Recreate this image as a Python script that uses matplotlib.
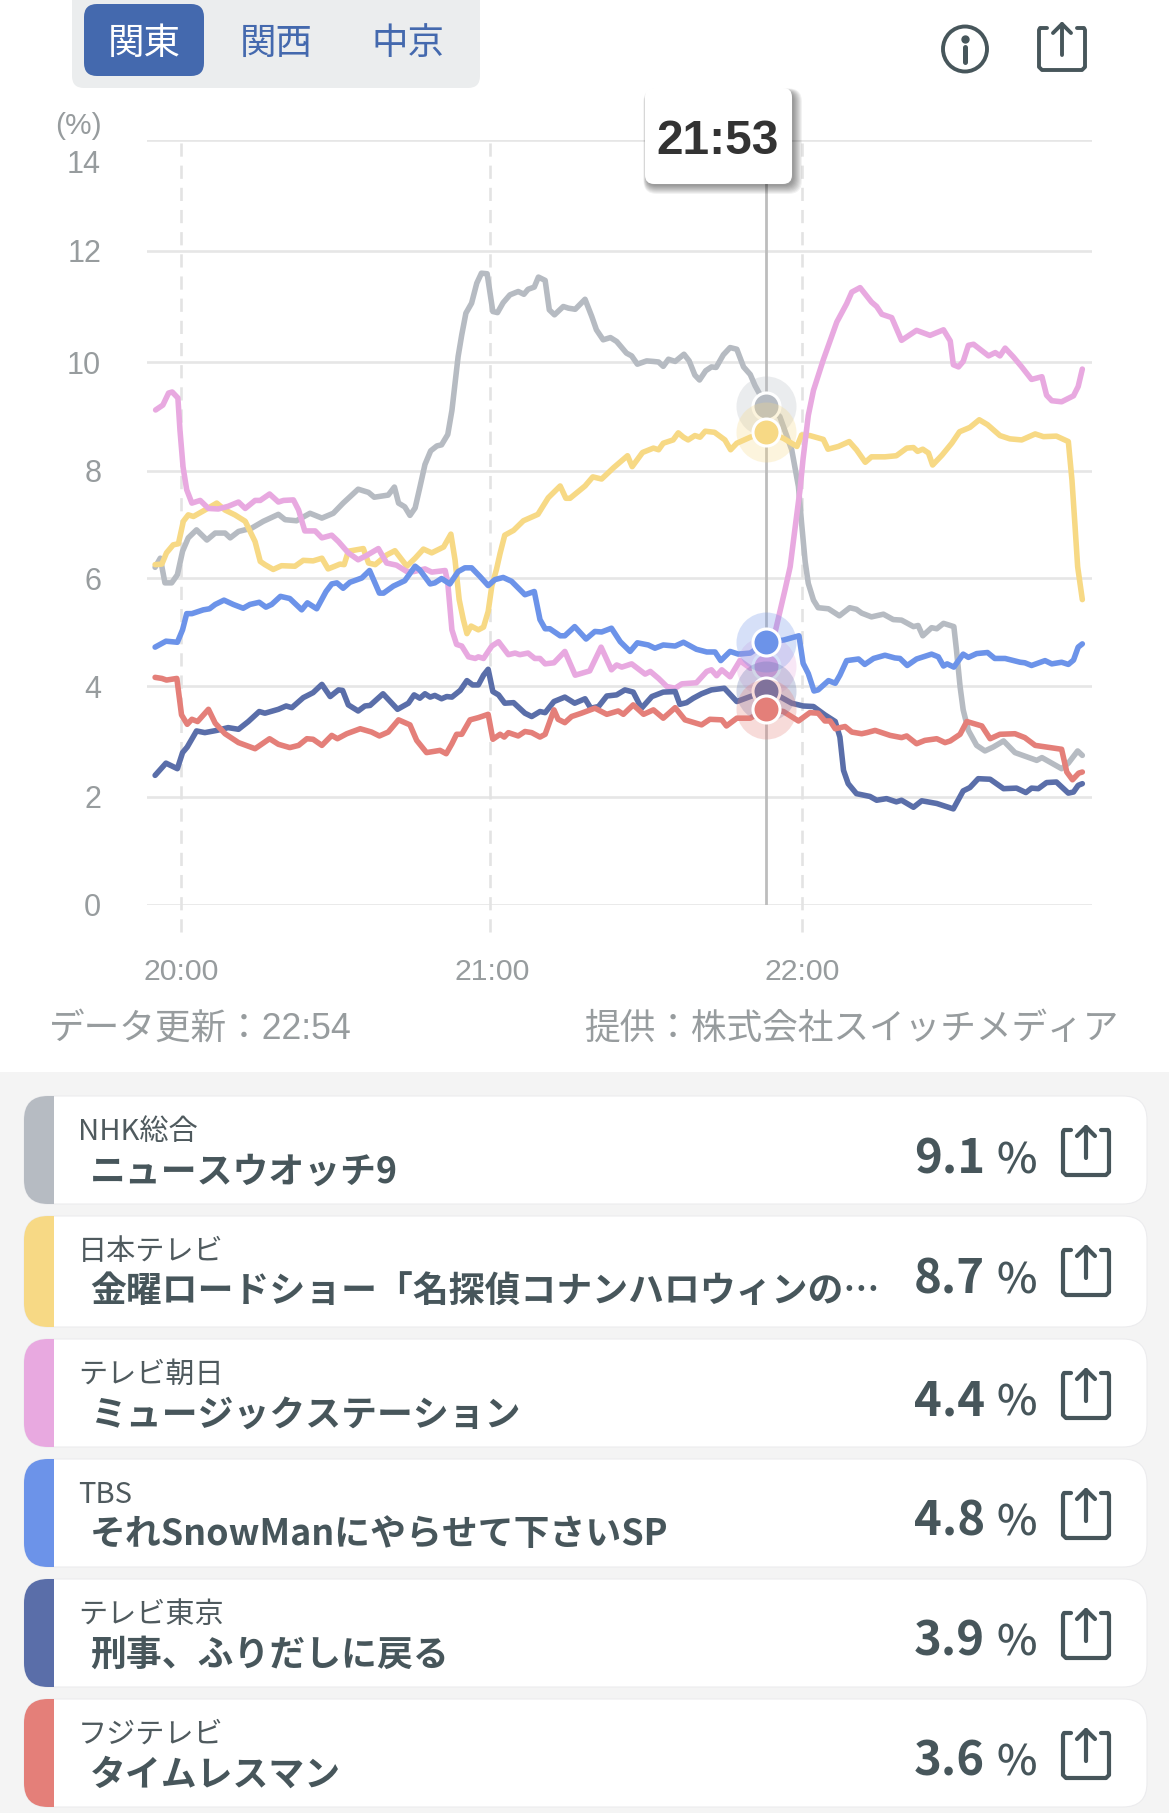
import numpy as np
import matplotlib
matplotlib.use("Agg")
import matplotlib.pyplot as plt
from matplotlib.patches import FancyBboxPatch, Ellipse, Rectangle

W, H = 1169, 1813
CJK = ['Noto Sans CJK JP', 'DejaVu Sans']
MIX = ['Liberation Sans', 'Noto Sans CJK JP']

# ---------- data (minutes after 20:00, rating %) ----------
t_nhk = [-5,-4,-3.1,-1.8,-.7,.3,1.4,3,5,6.6,8.5,9.5,11.1,13.6,15.9,18.8,20.1,22.3,24.9,27.2,29.4,31.3,34.2,36.2,37.3,40,41.2,42,43.2,44.2,45.2,46.1,47.1,48.2,49.4,50.3,51.5,52.3,52.9,53.5,54.2,55,56.1,57.1,58,59.1,60.2,61.1,62.2,63.5,65.1,66.2,67,68.2,69,70.3,71.1,72.1,73.8,74.8,76.1,78,79.3,80.2,81.5,82.9,84.1,86,87,88.1,89.9,91.2,92.2,93.1,94.1,95.4,97.1,98.1,99.2,100.1,101.3,102.4,103.3,104.7,106,107.3,108.6,109.9,110.8,113,115.6,117.9,119.2,119.8,120.5,121.1,122.1,123,125,127.1,129.1,130.4,131.4,133.3,135.6,137.5,139.1,141.4,142.3,143.2,144.9,145.9,147.2,149.2,149.7,150.4,151,152,153.6,155.2,156.8,158.8,161,165.2,166.2,170,171.3,173.1,174]
v_nhk = [6.2,6.37,5.91,5.91,6.06,6.5,6.75,6.9,6.71,6.84,6.84,6.75,6.87,6.93,7.06,7.19,7.09,7.07,7.21,7.12,7.21,7.4,7.66,7.6,7.51,7.55,7.7,7.4,7.33,7.17,7.31,7.69,8.12,8.37,8.46,8.48,8.67,9.11,9.6,10.1,10.49,10.88,11.06,11.42,11.6,11.59,10.91,10.89,11.07,11.21,11.27,11.22,11.31,11.35,11.53,11.47,10.94,10.85,11.0,10.97,10.95,11.13,10.82,10.58,10.4,10.44,10.37,10.16,10.11,9.96,10.02,10.01,10.0,9.92,10.05,10.01,10.14,10.02,9.76,9.67,9.84,9.91,9.9,10.13,10.26,10.23,9.91,9.77,9.57,9.19,9.0,8.39,7.71,7.03,6.3,5.9,5.59,5.45,5.43,5.3,5.45,5.42,5.35,5.28,5.33,5.23,5.22,5.1,5.12,4.93,5.08,5.06,5.16,5.1,4.67,3.99,3.57,3.2,2.93,2.83,2.9,3.01,2.8,2.66,2.71,2.51,2.61,2.83,2.75]

t_ntv = [-5,-3.7,-2.8,-1.5,-.5,.45,1.4,2.4,4.6,6.9,8.5,10.4,12.4,14.3,15.3,16.2,17.8,19.4,22,23.6,25.5,27.2,28.4,29.7,30.7,31.5,32.3,35.2,36.2,37.5,39.7,41.3,43.6,45.2,46.8,48.4,50.7,52.1,52.9,53.7,54.5,55.2,56,57.4,58.4,59.3,60,60.9,61.6,62.5,64.2,66.1,68.9,70.9,73.2,74.3,75.1,78,79.5,81.2,83.5,86.2,87.1,89.1,91.2,92.2,93.1,95,96,97,97.9,99.2,100.2,101.2,103,105,106.1,107.3,109.9,113,116.3,118.9,119.8,121.4,124,124.9,126.9,129,130.4,132.1,133.3,135.9,138.1,140.1,141.4,142.2,143.2,144.3,145.1,146.9,148.8,150.3,152.3,154.1,155.7,158.1,160,162.3,164.9,166.5,169,171.3,172,172.6,173.1,174]
v_ntv = [6.25,6.26,6.47,6.62,6.64,7.06,7.18,7.15,7.27,7.4,7.27,7.18,7.06,6.68,6.31,6.25,6.16,6.23,6.22,6.33,6.32,6.37,6.17,6.22,6.26,6.25,6.5,6.55,6.28,6.25,6.43,6.51,6.22,6.37,6.54,6.47,6.58,6.82,6.34,5.6,5.23,4.97,5.11,5.04,5.09,5.38,5.85,6.16,6.46,6.8,6.89,7.07,7.19,7.5,7.72,7.49,7.49,7.72,7.89,7.85,8.06,8.28,8.08,8.34,8.42,8.39,8.51,8.57,8.7,8.62,8.57,8.65,8.62,8.73,8.71,8.57,8.39,8.51,8.62,8.72,8.6,8.45,8.66,8.65,8.58,8.4,8.45,8.54,8.39,8.16,8.26,8.26,8.28,8.42,8.43,8.36,8.4,8.33,8.11,8.29,8.51,8.72,8.8,8.94,8.85,8.65,8.59,8.57,8.68,8.63,8.64,8.54,7.83,6.96,6.21,5.6]

t_ex = [-4.9,-3.5,-2.4,-1.7,-.6,-.2,.4,1.1,2.1,3.7,5.3,7.2,9.1,11.1,12.4,14.3,15.3,17.1,18.8,19.8,21.7,22.7,23.9,25.9,27.2,29.1,30.4,32.3,34.2,35.8,38.1,39.7,41.6,43.6,44.9,47.1,48.4,51,51.5,52.3,53.2,54.2,55.5,56.8,57.4,58.4,60,61.3,63.2,64.5,65.4,67,68.3,69.3,70.3,72,74.1,76.1,78.9,81.1,83.1,84.1,85.1,87,89.6,90.6,92.2,93.8,95.4,96.7,99.5,101.5,102.4,103.4,104.4,106,107.9,109.9,113,114.7,116.6,117.6,118.5,119.5,120.1,121.1,122.1,124,126.6,128.5,129.5,131.1,133.3,134.3,135.3,137.2,139.1,142,144.6,147.2,148.5,149.1,150.1,151,152,153,155.9,157.2,158.1,159.1,160.7,162.3,164.2,166.2,167.1,168.1,170,172.3,173.2,174]
v_ex = [9.12,9.21,9.43,9.45,9.34,8.75,8.07,7.65,7.4,7.45,7.3,7.29,7.34,7.42,7.3,7.45,7.45,7.57,7.42,7.45,7.46,7.27,6.88,6.88,6.75,6.8,6.68,6.47,6.34,6.42,6.55,6.28,6.24,6.12,6.12,6.17,6.11,6.14,5.91,5.04,4.77,4.74,4.54,4.51,4.54,4.51,4.74,4.82,4.58,4.61,4.58,4.61,4.51,4.51,4.41,4.43,4.64,4.2,4.28,4.72,4.3,4.39,4.35,4.41,4.22,4.27,4.14,3.99,3.96,4.04,4.06,4.27,4.3,4.19,4.3,4.17,4.47,4.33,4.37,5.0,5.78,6.21,6.9,7.65,8.23,9.02,9.48,10.04,10.72,11.05,11.26,11.34,11.08,11.0,10.86,10.8,10.39,10.57,10.48,10.58,10.38,9.95,9.91,10.01,10.3,10.32,10.11,10.17,10.11,10.25,10.09,9.91,9.68,9.73,9.39,9.29,9.27,9.38,9.55,9.87]

t_tbs = [-5,-2.9,-.7,.3,1.1,2.1,4.3,5.5,6.6,8.3,10.1,12,13.3,15.1,16.4,17.5,19.2,21,23.3,24.4,26.2,28,29.1,30.1,31.3,32.6,34.9,36.4,38.3,39.1,41,43.2,45.2,46.1,48.1,49,50.3,51.9,53.5,54.8,56.1,57.7,59.3,60.6,62.2,63.8,66.4,68.2,69.3,70.3,71.2,73.2,74.1,76,78.2,79.9,81.2,83.1,84.8,86.7,88.1,90.2,91.5,93.1,95.4,97,99.5,101.5,103.1,104.2,106,107.6,109.9,113,116.3,119.3,120.1,121.1,122.2,123,125,126.3,127.2,128.5,130.8,132,133.7,135.9,137.8,138.8,140.2,142,144.9,146.2,147.2,147.9,149.2,151,152,153.6,155.7,157.1,159.1,162,162.9,164.2,166.8,168.1,170,171.3,172.3,173.2,174]
v_tbs = [4.72,4.83,4.81,5.04,5.34,5.34,5.41,5.43,5.51,5.59,5.51,5.44,5.51,5.55,5.46,5.51,5.66,5.62,5.41,5.54,5.43,5.75,5.89,5.91,5.81,5.92,6.0,6.14,5.72,5.72,5.85,5.95,6.22,6.15,5.89,5.91,5.99,5.89,6.12,6.19,6.19,6.03,5.86,5.97,6.01,5.94,5.69,5.75,5.23,5.06,5.06,4.93,4.93,5.1,4.87,5.01,5.0,5.07,4.82,4.64,4.8,4.76,4.7,4.76,4.74,4.81,4.68,4.63,4.63,4.47,4.64,4.59,4.61,4.81,4.85,4.93,4.42,4.23,3.91,3.93,4.1,4.05,4.2,4.47,4.5,4.4,4.51,4.57,4.52,4.51,4.38,4.5,4.59,4.54,4.37,4.41,4.35,4.59,4.53,4.6,4.62,4.51,4.51,4.44,4.43,4.38,4.47,4.41,4.44,4.4,4.48,4.72,4.78]

t_tx = [-5,-2.9,-.7,.3,1.2,3,4.6,6.9,9.1,11.1,13,15.1,16.2,18.8,20.3,21.4,23.6,25.5,27.2,28.8,30.4,31.2,32.3,34.2,35.5,36.5,39,41.8,43.9,45,46.1,47.1,48.1,49,50.3,51.3,52.3,53.9,55.2,56.3,57.4,58.4,59.3,60.2,61.3,62.5,64.2,66.4,67.7,69.3,70.3,72,74.1,76,78,79.1,80.6,82.2,84.1,85.7,87.3,88.9,90.9,93.1,95.4,96.3,97.6,98.9,100.5,102.4,104.9,107.3,109.9,113,115.6,117.9,120.1,122.1,124.3,126.3,127.2,127.9,128.8,130.4,133,134.3,136.2,138.1,139.1,141.4,143,145.9,149.1,151,152.3,153.9,156.2,158.8,161.3,163.1,164.2,165.5,167.1,169,171.3,172.3,173.2,174]
v_tx = [2.39,2.61,2.51,2.8,2.9,3.19,3.16,3.2,3.25,3.22,3.36,3.54,3.51,3.58,3.64,3.61,3.79,3.88,4.03,3.81,3.93,3.92,3.66,3.55,3.64,3.65,3.86,3.58,3.69,3.84,3.78,3.86,3.8,3.83,3.77,3.81,3.8,3.92,4.1,4.02,4.02,4.2,4.31,3.9,3.84,3.69,3.7,3.51,3.45,3.54,3.52,3.72,3.8,3.69,3.77,3.6,3.63,3.82,3.84,3.93,3.89,3.6,3.81,3.89,3.9,3.67,3.7,3.78,3.86,3.93,3.96,3.72,3.81,3.91,3.81,3.69,3.64,3.63,3.48,3.36,3.08,2.48,2.24,2.06,2.01,1.94,1.97,1.91,1.94,1.81,1.93,1.88,1.78,2.11,2.17,2.33,2.32,2.15,2.16,2.08,2.16,2.15,2.26,2.27,2.07,2.09,2.21,2.24]

t_cx = [-5,-3.7,-2.8,-.8,.1,1.2,2.1,3.2,5.3,6.6,8.5,11.1,14.3,17.1,18.8,21,22.7,24.3,25.5,27.2,29.1,30.2,32,34.6,36.8,38.3,40,42,44.2,45.5,47.4,50,51.2,52.3,53.2,54.2,55.8,57.4,59.3,60.2,61.6,62.4,63.2,65.1,66.4,67.7,69.3,70.3,72,72.8,74.1,75.4,77.3,79.9,82.2,84.4,85.4,87.3,89.3,91.2,93.1,95.4,97.3,100.5,102.1,104.4,105.3,107.3,109.9,113,116.3,119.2,121.4,123,124.3,125.3,126.3,128.2,129.5,131.4,132.4,134,136.9,139.1,140.1,142,143.6,145.9,147.5,148.5,150.4,151.7,154.6,156.2,158.1,161,162.9,164.9,170,171,172.1,173.3,174]
v_cx = [4.16,4.14,4.11,4.14,3.48,3.31,3.4,3.36,3.58,3.33,3.14,2.98,2.87,3.05,2.95,2.89,2.93,3.05,3.04,2.93,3.11,3.05,3.14,3.23,3.17,3.1,3.17,3.39,3.3,3.02,2.8,2.84,2.78,2.96,3.13,3.13,3.39,3.43,3.49,3.04,3.13,3.08,3.16,3.1,3.18,3.16,3.08,3.13,3.57,3.4,3.34,3.45,3.51,3.6,3.49,3.55,3.49,3.66,3.49,3.57,3.42,3.61,3.39,3.3,3.4,3.39,3.28,3.42,3.42,3.59,3.54,3.37,3.52,3.51,3.37,3.37,3.23,3.27,3.17,3.14,3.16,3.2,3.11,3.07,3.1,2.96,3.02,3.05,2.98,3.01,3.13,3.36,3.28,3.05,3.13,3.14,3.07,2.93,2.86,2.45,2.31,2.43,2.45]

times = [t_nhk, t_ntv, t_ex, t_tbs, t_tx, t_cx]
values = [v_nhk, v_ntv, v_ex, v_tbs, v_tx, v_cx]
colors = ['#B6BBC2', '#F7D985', '#E8A9E0', '#6C93E9', '#5A6EA9', '#E47F79']
cursor_t = 113
cursor_values = [9.19, 8.72, 4.37, 4.81, 3.91, 3.59]

y_ticks = [0, 2, 4, 6, 8, 10, 12, 14]
x_ticks = [0, 60, 120]
x_labels = ['20:00', '21:00', '22:00']
hour_rules = [0, 59.6, 119.8]

stations = ['NHK総合', '日本テレビ', 'テレビ朝日', 'TBS', 'テレビ東京', 'フジテレビ']
programs = ['ニュースウオッチ9', '金曜ロードショー「名探偵コナンハロウィンの…',
            'ミュージックステーション', 'それSnowManにやらせて下さいSP',
            '刑事、ふりだしに戻る', 'タイムレスマン']
ratings = ['9.1', '8.7', '4.4', '4.8', '3.9', '3.6']

# ---------- layout ----------
card_top = [1096, 1216, 1339, 1459, 1579, 1699]
card_bot = [1204, 1327, 1447, 1567, 1687, 1807]
grid_px = np.array([905, 797, 686, 578, 471, 362, 251, 140], float)
AX_L, AX_R, AX_B, AX_T = 147, 1092, 905, 140
X0, PPM = 181, 5.18

fig = plt.figure(figsize=(W/100, H/100), dpi=100, facecolor='white')

# background layer
bg = fig.add_axes([0, 0, 1, 1], zorder=0)
bg.set_xlim(0, W); bg.set_ylim(H, 0); bg.axis('off')

INK = '#47565B'
GREY = '#979C9E'
BLUE = '#4469AE'


def rbox(a, x0, y0, x1, y1, r, **kw):
    p = FancyBboxPatch((x0, y0), x1-x0, y1-y0,
                       boxstyle=f"round,pad=0,rounding_size={r}", **kw)
    a.add_patch(p)
    return p


def share(a, cx, top, bot, atop, stem, hw=23, lw=2.6):
    a.plot([cx-hw+8, cx-hw+1, cx-hw, cx-hw, cx-hw+3, cx+hw-3, cx+hw, cx+hw, cx+hw-1, cx+hw-8],
           [top, top, top+2, bot-3, bot, bot, bot-3, top+2, top, top],
           color=INK, lw=lw, solid_capstyle='round', solid_joinstyle='round')
    a.plot([cx, cx], [atop, stem], color=INK, lw=lw, solid_capstyle='round')
    a.plot([cx-9, cx, cx+9], [atop+9, atop, atop+9], color=INK, lw=lw,
           solid_capstyle='round', solid_joinstyle='round')


# tabs
rbox(bg, 72, -30, 480, 88, 12, fc='#EBEDEE', ec='none')
rbox(bg, 84, 4, 204, 76, 13, fc=BLUE, ec='none')
for lab, cx, c in zip(['関東', '関西', '中京'], [144, 276, 408], ['white', BLUE, BLUE]):
    bg.text(cx, 44, lab, color=c, fontsize=26.3, family=CJK, ha='center', va='center')

# info and share icons
bg.add_patch(Ellipse((965, 49), 44, 45, fc='none', ec=INK, lw=2.8))
bg.plot([965], [39], 'o', ms=5, color=INK)
bg.plot([965, 965], [47, 62], color=INK, lw=3.6, solid_capstyle='round')
share(bg, 1062, 28, 70, 24, 55, lw=2.8)

bg.text(78, 126, '(%)', color=GREY, fontsize=21.5, family=MIX, ha='center', va='center')
bg.text(101, 165, '14', color=GREY, fontsize=22, family=MIX, ha='right', va='center')

# footer of chart
bg.text(49, 1029, 'データ更新：22:54', color=GREY, fontsize=25.7, family=MIX, ha='left', va='center')
bg.text(1118.5, 1029, '提供：株式会社スイッチメディア', color=GREY, fontsize=25.7, family=MIX, ha='right', va='center')

# list panel
bg.add_patch(Rectangle((0, 1072), W, H-1072, fc='#F4F4F4', ec='none'))
for i in range(6):
    top, bot = card_top[i], card_bot[i]
    rbox(bg, 24, top, 1147, bot, 24, fc='white', ec='#ECECEE', lw=0.8)
    side = rbox(bg, 24, top, 1147, bot, 24, fc=colors[i], ec='none')
    side.set_clip_path(Rectangle((24, top), 30, bot-top, transform=bg.transData))
    bg.text(78, top+36, stations[i], color='#4F5A5E', fontsize=21, family=CJK, ha='left', va='center')
    bg.text(90, top+76, programs[i], color=INK, fontsize=25.8, family=CJK, weight='bold',
            ha='left', va='center')
    bg.text(914, top+77, ratings[i], color=INK, fontsize=34, family=CJK, weight='bold',
            ha='left', va='baseline')
    bg.text(997, top+77, '%', color=INK, fontsize=31, family=CJK, weight=500, ha='left', va='baseline')
    share(bg, 1086, top+34, top+79, top+31, top+62, lw=3.0)

# chart
ax = fig.add_axes([AX_L/W, 1-AX_B/H, (AX_R-AX_L)/W, (AX_B-AX_T)/H], zorder=2)
ax.patch.set_alpha(0)
val_pts = np.array(y_ticks, float)
px_pts = AX_B - grid_px
ax.set_yscale('function', functions=(lambda v: np.interp(v, val_pts, px_pts),
                                     lambda p: np.interp(p, px_pts, val_pts)))
ax.set_ylim(0, 14)
ax.set_xlim((AX_L-X0)/PPM, (AX_R-X0)/PPM)
for s in ax.spines.values():
    s.set_visible(False)
ax.set_yticks(y_ticks)
ax.set_yticklabels(['' if v == 14 else str(v) for v in y_ticks], family=MIX)
ax.minorticks_off()
ax.set_xticks(x_ticks)
ax.set_xticklabels(x_labels, family=MIX)
ax.tick_params(axis='y', length=0, pad=33, labelsize=22, labelcolor=GREY)
ax.tick_params(axis='x', length=0, pad=38, labelsize=21.8, labelcolor=GREY)
ax.grid(axis='y', color='#E6E6E6', lw=1.9, zorder=0)
ax.set_axisbelow(True)
for t in hour_rules:
    ax.axvline(t, ymin=-27/765, ymax=1, color='#E3E3E3', lw=1.9, dashes=(5, 3.4),
               clip_on=False, zorder=1)
ax.plot([cursor_t, cursor_t], [0, 14], color='#BDBDBD', lw=2.0, zorder=6)

for i in range(6):
    ax.plot(times[i], values[i], color=colors[i], lw=4.0, solid_joinstyle='round',
            solid_capstyle='round', zorder=3+i*0.01, clip_on=False)
for i in range(6):
    ax.scatter([cursor_t], [cursor_values[i]], s=1866, color=colors[i], alpha=0.28,
               linewidths=0, zorder=10+i*0.1, clip_on=False)
    ax.scatter([cursor_t], [cursor_values[i]], s=378, color=colors[i], edgecolors='white',
               linewidths=2.2, zorder=10.05+i*0.1, clip_on=False)

# tooltip
ov = fig.add_axes([0, 0, 1, 1], zorder=5)
ov.set_xlim(0, W); ov.set_ylim(H, 0); ov.axis('off'); ov.patch.set_alpha(0)
for k in range(9, 0, -1):
    rbox(ov, 645+2-k*0.4, 88+4-k*0.4, 792+1+k, 184+1+k, 9+k*0.5, fc='black', ec='none', alpha=0.05)
rbox(ov, 645, 88, 792, 184, 9, fc='white', ec='none')
ov.text(718, 141, '21:53', color='#333333', fontsize=34.5, family='Liberation Sans',
        weight='bold', ha='center', va='center')

fig.savefig('out.png', dpi=100)
